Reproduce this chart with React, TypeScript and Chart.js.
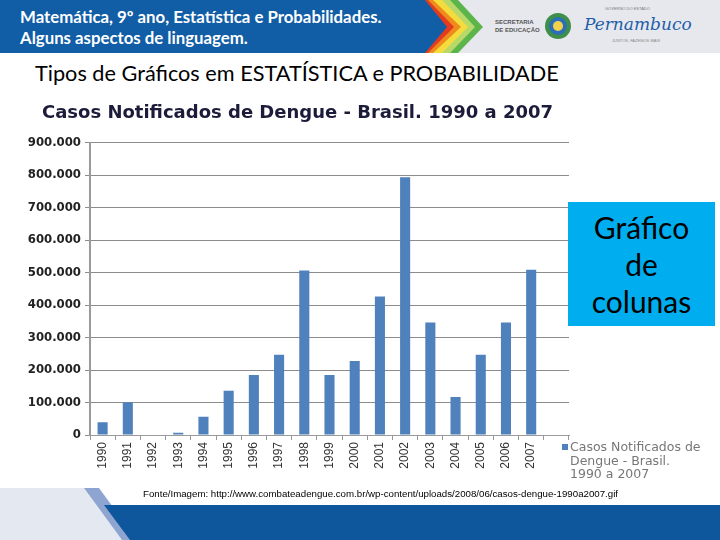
import React, { useEffect, useRef } from "react";
import { Chart, registerables } from "chart.js";
Chart.register(...registerables);

const years = ["1990","1991","1992","1993","1994","1995","1996","1997","1998","1999","2000","2001","2002","2003","2004","2005","2006","2007",""];
const cases = [39000,101000,0,7000,56000,136000,185000,247000,506000,185000,228000,426000,793000,346000,117000,247000,346000,509000,null];
const yMax = 900000;
const yStep = 100000;
const chartTitle = "Casos Notificados de Dengue - Brasil. 1990 a 2007";
const seriesName = "Casos Notificados de Dengue - Brasil. 1990 a 2007";
const legendLines = ["Casos Notificados de", "Dengue - Brasil.", "1990 a 2007"];
const headerLines = ["Matemática, 9º ano, Estatística e Probabilidades.", "Alguns aspectos de linguagem."];
const slideTitle = "Tipos de Gráficos em ESTATÍSTICA e PROBABILIDADE";
const boxLines = ["Gráfico", "de", "colunas"];
const sourceText = "Fonte/Imagem: http://www.combateadengue.com.br/wp-content/uploads/2008/06/casos-dengue-1990a2007.gif";

const fmt = (v: number) => String(v).replace(/\B(?=(\d{3})+(?!\d))/g, ".");

export default function App() {
  const ref = useRef<HTMLCanvasElement>(null);
  useEffect(() => {
    if (!ref.current) return;
    const chart = new Chart(ref.current, {
      type: "bar",
      data: {
        labels: years,
        datasets: [{
          label: seriesName,
          data: cases,
          backgroundColor: "#4f81bd",
          barPercentage: 0.4,
          categoryPercentage: 1,
        }],
      },
      options: {
        responsive: false,
        animation: false,
        layout: { padding: { left: 26, right: 151, top: 0, bottom: 0 } },
        plugins: {
          legend: { display: false },
          tooltip: { enabled: false },
          title: {
            display: true,
            text: chartTitle,
            color: "#1c1c3a",
            font: { family: "DejaVu Sans", size: 18, weight: "bold" },
            padding: { top: 8, bottom: 18 },
          },
        },
        scales: {
          x: {
            afterFit: (s: any) => { s.height = 60; },
            grid: { display: true, drawOnChartArea: false, drawTicks: true, tickLength: 5, color: "#9a9a9a", offset: true },
            border: { color: "#9a9a9a", width: 1 },
            ticks: {
              minRotation: 90, maxRotation: 90, autoSkip: false, padding: 2,
              color: "#333", font: { family: "Liberation Sans", size: 12 },
            },
          },
          y: {
            min: 0, max: yMax,
            afterFit: (s: any) => { s.width = 64; },
            grid: { color: "#8c8c8c", tickLength: 5, drawTicks: true },
            border: { color: "#9a9a9a", width: 2 },
            ticks: {
              stepSize: yStep, padding: 4, color: "#222",
              font: { family: "DejaVu Sans", size: 11.7, weight: "bold" },
              callback: (v: any) => fmt(Number(v)),
            },
          },
        },
      },
    });
    return () => chart.destroy();
  }, []);

  return (
    <div style={{ position: "fixed", left: 0, top: 0, width: 720, height: 540, background: "#fff", overflow: "hidden" }}>
      <svg width={720} height={53} style={{ position: "absolute", left: 0, top: 0 }}>
        <rect x={0} y={0} width={720} height={53} fill="#e6e8ee" />
        <polygon points="0,0 458,0 483,27 458,53 0,53" fill="#5cb54a" />
        <polygon points="0,0 450,0 475,27 450,53 0,53" fill="#b8d86a" />
        <polygon points="0,0 442,0 468,27 442,53 0,53" fill="#f4dc3c" />
        <polygon points="0,0 433,0 461,27 433,53 0,53" fill="#ef8a1c" />
        <polygon points="0,0 428,0 454,27 428,53 0,53" fill="#e23b1f" />
        <polygon points="0,0 425,0 447,27 425,53 0,53" fill="#115da6" />
        <circle cx={558} cy={26} r={13} fill="#3f8f4a" />
        <circle cx={558} cy={26} r={9} fill="#2a6fb8" />
        <circle cx={558} cy={26} r={5} fill="#f2d24a" />
      </svg>
      <div style={{ position: "absolute", left: 20, top: 6, color: "#fff", fontFamily: "Lato", fontWeight: 700, fontSize: 16.8, lineHeight: "21px", whiteSpace: "nowrap" }}>
        {headerLines.map((l, i) => <div key={i}>{l}</div>)}
      </div>
      <div style={{ position: "absolute", left: 495, top: 18, color: "#555", fontFamily: "Liberation Sans", fontWeight: 700, fontSize: 6, lineHeight: "8px" }}>
        <div>SECRETARIA</div><div>DE EDUCAÇÃO</div>
      </div>
      <div style={{ position: "absolute", left: 605, top: 6, color: "#777", fontFamily: "Liberation Sans", fontSize: 4 }}>GOVERNO DO ESTADO</div>
      <div style={{ position: "absolute", left: 584, top: 12, color: "#1f5fa8", fontFamily: "DejaVu Serif", fontStyle: "italic", fontSize: 17, lineHeight: "24px" }}>Pernambuco</div>
      <div style={{ position: "absolute", left: 612, top: 38, color: "#888", fontFamily: "Liberation Sans", fontSize: 4 }}>JUNTOS, FAZEMOS MAIS</div>

      <div style={{ position: "absolute", left: 35, top: 60, color: "#000", fontFamily: "Lato", fontSize: 21.7, whiteSpace: "nowrap" }}>{slideTitle}</div>

      <canvas ref={ref} width={720} height={400} style={{ position: "absolute", left: 0, top: 95 }} />

      <div style={{ position: "absolute", left: 562, top: 444, width: 6, height: 6, background: "#4f81bd" }} />
      <div style={{ position: "absolute", left: 570, top: 440, color: "#777", fontFamily: "DejaVu Sans", fontSize: 12.5, lineHeight: "13.5px", whiteSpace: "nowrap" }}>
        {legendLines.map((l, i) => <div key={i}>{l}</div>)}
      </div>

      <div style={{ position: "absolute", left: 568, top: 202, width: 147, height: 124, background: "#00aeef", display: "flex", flexDirection: "column", alignItems: "center", justifyContent: "center", fontFamily: "Lato", fontSize: 30, lineHeight: "37px", color: "#000" }}>
        {boxLines.map((l, i) => <div key={i}>{l}</div>)}
      </div>

      <svg width={720} height={53} style={{ position: "absolute", left: 0, top: 487 }}>
        <polygon points="0,1 84,1 122,53 0,53" fill="#e4e8f0" />
        <polygon points="84,1 99,1 137,53 122,53" fill="#8ea5d1" />
        <polygon points="104,18 720,18 720,53 130,53" fill="#0e579c" />
      </svg>
      <div style={{ position: "absolute", left: 143, top: 488, color: "#000", fontFamily: "Liberation Sans Narrow, Liberation Sans", fontSize: 9.7, whiteSpace: "nowrap" }}>{sourceText}</div>
    </div>
  );
}
